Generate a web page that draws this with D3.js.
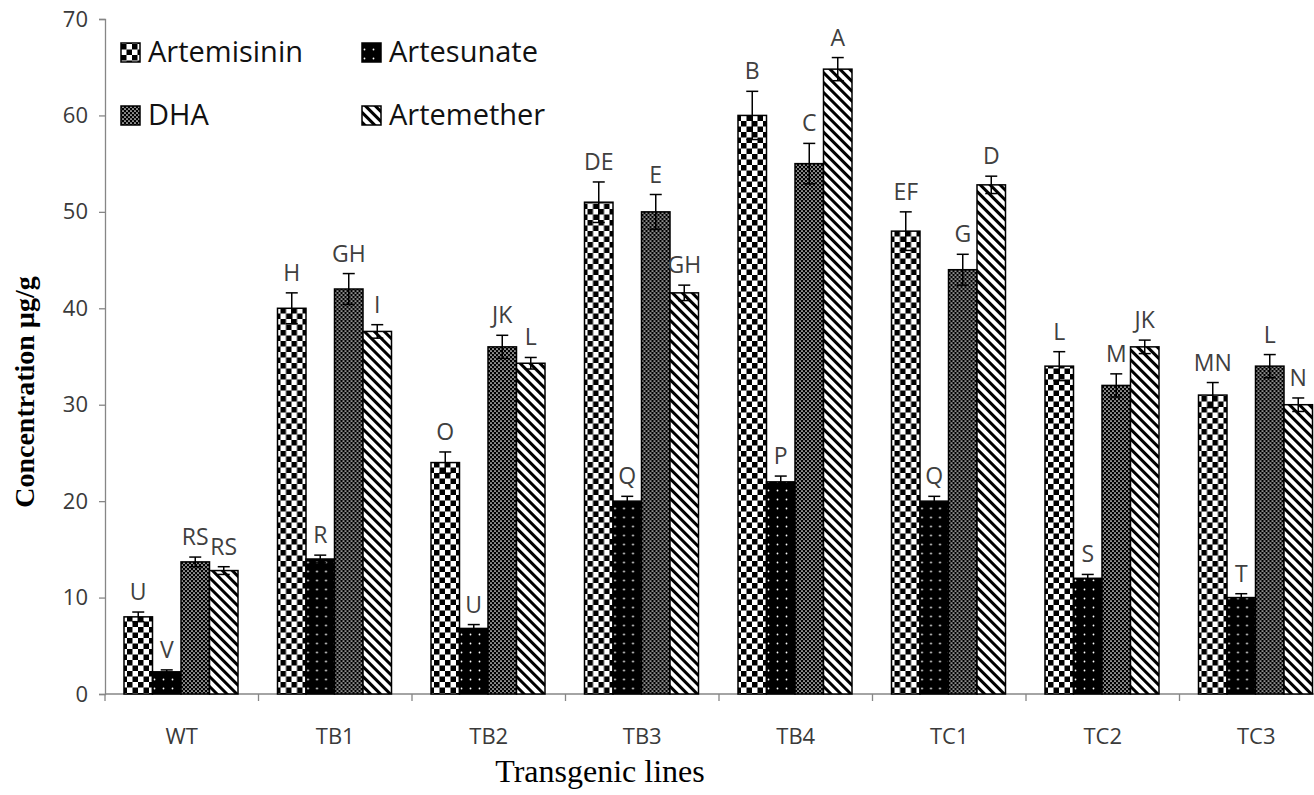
<!DOCTYPE html>
<html>
<head>
<meta charset="utf-8">
<script src="https://cdn.jsdelivr.net/npm/d3@7"></script>
<style>
  body { margin: 0; background: #fff; }
  svg { display: block; }
  .tick-lbl { font-family: "Open Sans", "Noto Sans", sans-serif; fill: #3a3a3a; }
  .letter { font-family: "Open Sans", "Noto Sans", sans-serif; fill: #404040; font-size: 23px; }
  .legend-txt { font-family: "Open Sans", "Noto Sans", sans-serif; fill: #111; font-size: 29px; }
</style>
</head>
<body>
<svg width="1314" height="795"></svg>
<script>
var lines = ['WT', 'TB1', 'TB2', 'TB3', 'TB4', 'TC1', 'TC2', 'TC3'];
var series = ['Artemisinin', 'Artesunate', 'DHA', 'Artemether'];

var artemisinin = [8, 40, 24, 51, 60, 48, 34, 31];
var artesunate  = [2.3, 14, 6.8, 20, 22, 20, 12, 10];
var dha         = [13.7, 42, 36, 50, 55, 44, 32, 34];
var artemether  = [12.8, 37.6, 34.3, 41.6, 64.8, 52.8, 36, 30];

var errArtemisinin = [0.5, 1.6, 1.1, 2.1, 2.5, 2.0, 1.5, 1.3];
var errArtesunate  = [0.2, 0.4, 0.4, 0.5, 0.6, 0.5, 0.4, 0.4];
var errDha         = [0.5, 1.6, 1.2, 1.8, 2.1, 1.6, 1.2, 1.2];
var errArtemether  = [0.4, 0.7, 0.6, 0.8, 1.2, 0.9, 0.7, 0.7];

var lettersArtemisinin = ['U', 'H', 'O', 'DE', 'B', 'EF', 'L', 'MN'];
var lettersArtesunate  = ['V', 'R', 'U', 'Q', 'P', 'Q', 'S', 'T'];
var lettersDha         = ['RS', 'GH', 'JK', 'E', 'C', 'G', 'M', 'L'];
var lettersArtemether  = ['RS', 'I', 'L', 'GH', 'A', 'D', 'JK', 'N'];

var yTicks = [0, 10, 20, 30, 40, 50, 60, 70];

var values = [artemisinin, artesunate, dha, artemether];
var errors = [errArtemisinin, errArtesunate, errDha, errArtemether];
var letters = [lettersArtemisinin, lettersArtesunate, lettersDha, lettersArtemether];
var patternIds = ['pat-check', 'pat-dots', 'pat-fine', 'pat-stripe'];

var svg = d3.select('svg');
var axisColor = '#868686';

// ---- patterns
var defs = svg.append('defs');

var check = defs.append('pattern').attr('id', 'pat-check')
  .attr('patternUnits', 'userSpaceOnUse').attr('width', 11).attr('height', 11);
check.append('rect').attr('width', 11).attr('height', 11).attr('fill', '#fff');
check.append('rect').attr('width', 5.5).attr('height', 5.5).attr('fill', '#000');
check.append('rect').attr('x', 5.5).attr('y', 5.5).attr('width', 5.5).attr('height', 5.5).attr('fill', '#000');

var dots = defs.append('pattern').attr('id', 'pat-dots')
  .attr('patternUnits', 'userSpaceOnUse').attr('width', 9).attr('height', 9);
dots.append('rect').attr('width', 9).attr('height', 9).attr('fill', '#000');
dots.append('circle').attr('cx', 4.5).attr('cy', 4.5).attr('r', 0.9).attr('fill', '#fff');

var fine = defs.append('pattern').attr('id', 'pat-fine')
  .attr('patternUnits', 'userSpaceOnUse').attr('width', 4).attr('height', 4);
fine.append('rect').attr('width', 4).attr('height', 4).attr('fill', '#000');
fine.append('circle').attr('cx', 1).attr('cy', 1).attr('r', 0.85).attr('fill', '#fff');
fine.append('circle').attr('cx', 3).attr('cy', 3).attr('r', 0.85).attr('fill', '#fff');

var stripe = defs.append('pattern').attr('id', 'pat-stripe')
  .attr('patternUnits', 'userSpaceOnUse').attr('width', 7).attr('height', 7)
  .attr('patternTransform', 'rotate(-45)');
stripe.append('rect').attr('width', 7).attr('height', 7).attr('fill', '#fff');
stripe.append('rect').attr('width', 3).attr('height', 7).attr('fill', '#000');

// ---- scales
var x0 = d3.scaleBand().domain(lines).range([105, 105 + 8 * 153.5]);
var x1 = d3.scaleBand().domain(series).range([19, 133]);
var y = d3.scaleLinear().domain([0, 70]).range([694, 19]);

// ---- axes
var yAxis = svg.append('g').attr('transform', 'translate(105,0)')
  .call(d3.axisLeft(y).tickValues(yTicks).tickSize(6).tickPadding(11));
yAxis.select('.domain').attr('stroke', axisColor).attr('stroke-width', 1.3);
yAxis.selectAll('.tick line').attr('stroke', axisColor).attr('stroke-width', 1.3);
yAxis.selectAll('.tick text').attr('class', 'tick-lbl').attr('font-size', 22);

var xAxis = svg.append('g').attr('transform', 'translate(0,694)');
xAxis.append('line').attr('x1', 105).attr('x2', 1314).attr('stroke', axisColor).attr('stroke-width', 1.3);
xAxis.selectAll('.xt').data(lines).enter().append('line')
  .attr('x1', function(d) { return x0(d); }).attr('x2', function(d) { return x0(d); })
  .attr('y1', 0).attr('y2', 7).attr('stroke', axisColor).attr('stroke-width', 1.3);
xAxis.selectAll('.xl').data(lines).enter().append('text')
  .attr('class', 'tick-lbl').attr('font-size', 22).attr('text-anchor', 'middle')
  .attr('x', function(d) { return x0(d) + x0.bandwidth() / 2; })
  .attr('y', 50)
  .text(function(d) { return d; });

// ---- bars
var groups = svg.selectAll('.grp').data(lines).enter().append('g')
  .attr('transform', function(d) { return 'translate(' + x0(d) + ',0)'; });

groups.each(function(line, i) {
  var g = d3.select(this);
  series.forEach(function(s, j) {
    var v = values[j][i], e = errors[j][i];
    var bx = x1(s), bw = x1.bandwidth(), cx = bx + bw / 2;
    g.append('rect')
      .attr('x', bx).attr('y', y(v))
      .attr('width', bw).attr('height', y(0) - y(v))
      .attr('fill', 'url(#' + patternIds[j] + ')')
      .attr('stroke', '#000').attr('stroke-width', 1.5);
    g.append('line').attr('x1', cx).attr('x2', cx).attr('y1', y(v - e)).attr('y2', y(v + e))
      .attr('stroke', '#000').attr('stroke-width', 1.5);
    [v - e, v + e].forEach(function(t) {
      g.append('line').attr('x1', cx - 6).attr('x2', cx + 6).attr('y1', y(t)).attr('y2', y(t))
        .attr('stroke', '#000').attr('stroke-width', 1.5);
    });
    g.append('text').attr('class', 'letter').attr('text-anchor', 'middle')
      .attr('x', cx).attr('y', y(v + e) - 12)
      .text(letters[j][i]);
  });
});

// ---- legend
var legendPos = [[121, 52], [362, 52], [121, 115], [362, 115]];
series.forEach(function(s, j) {
  var p = legendPos[j];
  svg.append('rect').attr('x', p[0]).attr('y', p[1] - 9).attr('width', 19).attr('height', 19)
    .attr('fill', 'url(#' + patternIds[j] + ')').attr('stroke', '#000').attr('stroke-width', 1.5);
  svg.append('text').attr('class', 'legend-txt').attr('x', p[0] + 27).attr('y', p[1] + 10).text(s);
});

// ---- axis titles
svg.append('text')
  .attr('transform', 'translate(34,392) rotate(-90)')
  .attr('text-anchor', 'middle')
  .attr('font-family', '"Liberation Serif", "DejaVu Serif", serif')
  .attr('font-weight', 'bold').attr('font-size', 28)
  .text('Concentration µg/g');

svg.append('text')
  .attr('x', 600).attr('y', 782)
  .attr('text-anchor', 'middle')
  .attr('font-family', '"Liberation Serif", "DejaVu Serif", serif')
  .attr('font-size', 32)
  .text('Transgenic lines');
</script>
</body>
</html>
